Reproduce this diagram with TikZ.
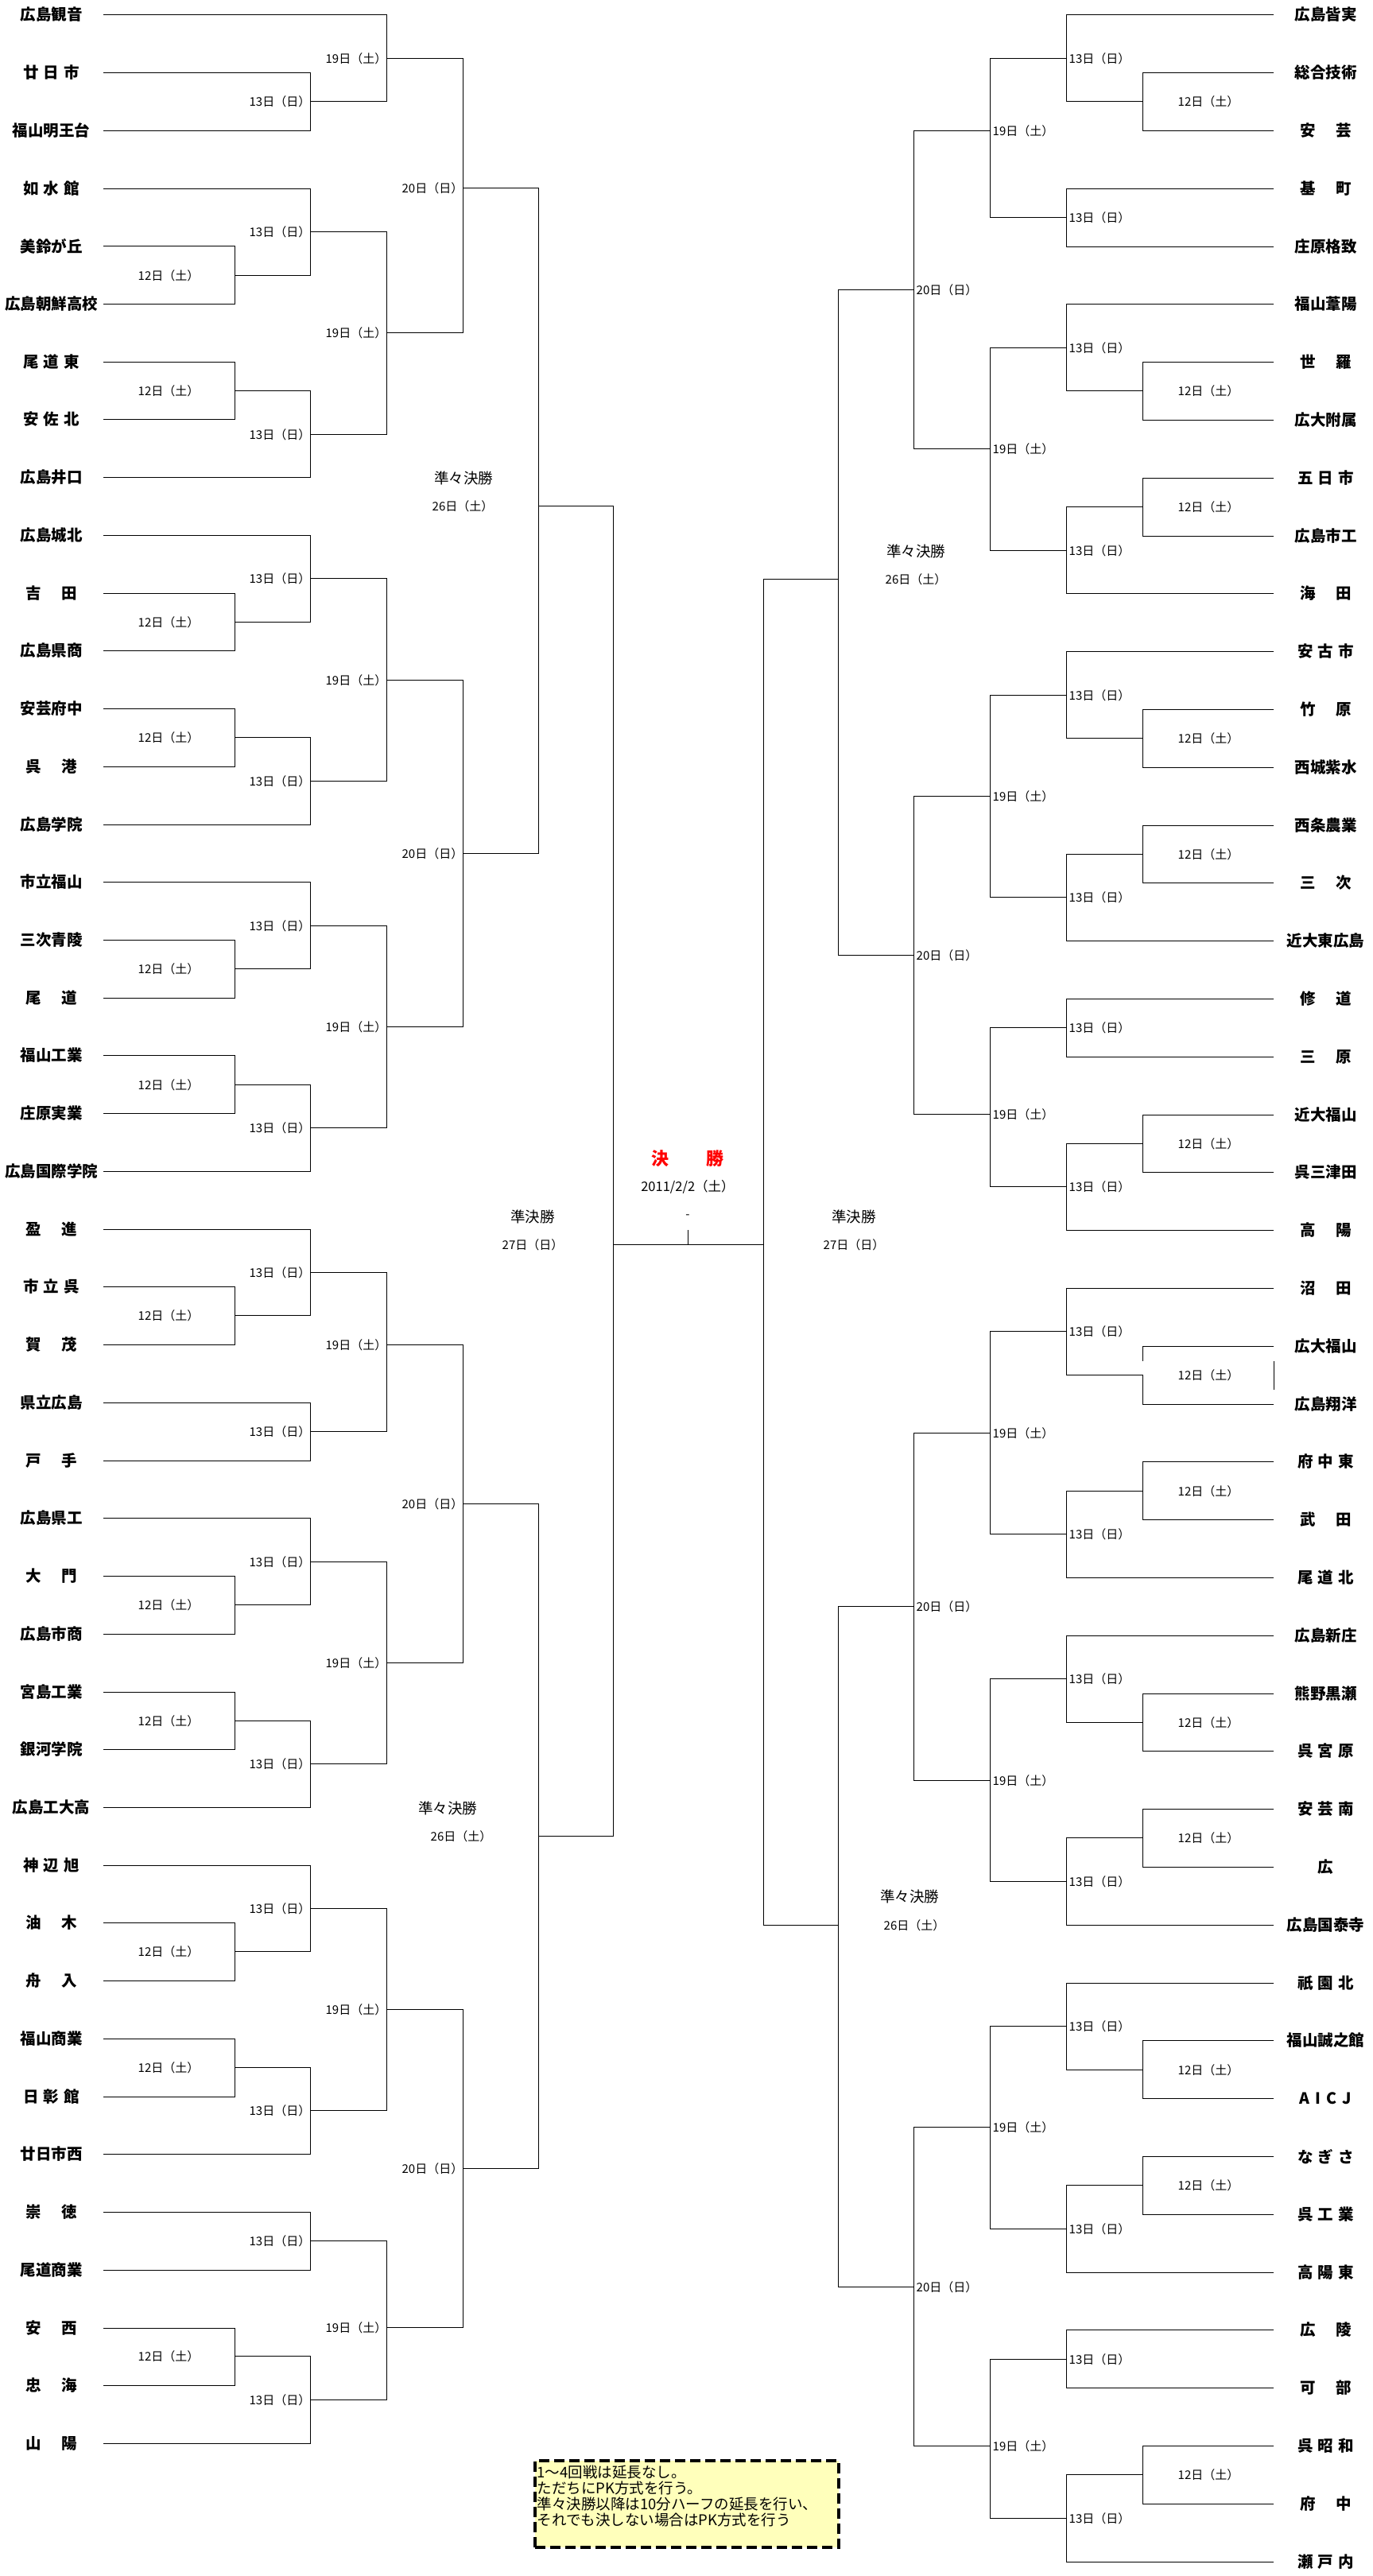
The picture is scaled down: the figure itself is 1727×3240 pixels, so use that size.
\documentclass[tikz,border=0pt]{standalone}
\usepackage{fontspec}
\setmainfont{Noto Sans CJK JP}

% spread names over the width of four characters
\newcommand{\sptwo}[2]{#1\hspace{1.33em}#2}
\newcommand{\spthree}[3]{#1\hspace{0.32em}#2\hspace{0.32em}#3}

% left half: junction name, upper input, lower input, x, quarter row, date
\newcommand{\Lmatch}[6]{%
  \coordinate (#1) at (#4,{round(18.3+18.18*#5)+0.5});
  \draw[bline] (#2) -| (#1) |- (#3);
  \node[datel, anchor=east] (#1t) at (#1) {#6};
}
\newcommand{\Lfirst}[4]{%
  \coordinate (#1) at (295.5,{round(18.3+18.18*#4)+0.5});
  \draw[bline] (#2) -| (#1) |- (#3);
  \node[datel] (#1t) at (212,{round(18.3+18.18*#4)+0.5}) {12日（土）};
}
% right half
\newcommand{\Rmatch}[6]{%
  \coordinate (#1) at (#4,{round(18.3+18.2*#5)+0.5});
  \draw[bline] (#2) -| (#1) |- (#3);
  \node[datel, anchor=west] (#1t) at ([xshift=3pt]#1) {#6};
}
\newcommand{\Rfirst}[4]{%
  \coordinate (#1) at (1437.5,{round(18.3+18.2*#4)+0.5});
  \draw[bline] (#2) -| (#1) |- (#3);
  \node[datel] (#1t) at (1520,{round(18.3+18.2*#4)+0.5}) {12日（土）};
}

\begin{document}
\begin{tikzpicture}[x=1pt, y=-1pt,
team/.style={font=\fontsize{19.5}{22}\selectfont\bfseries, minimum width=130pt, inner sep=0pt},
datel/.style={font=\fontsize{15}{17}\selectfont, inner sep=0pt},
roundl/.style={font=\fontsize{18.5}{21}\selectfont, inner sep=0pt},
fintitle/.style={font=\fontsize{22}{24}\selectfont\bfseries, text=red, inner sep=0pt},
bline/.style={line width=1.5pt},
notebox/.style={draw=black, line width=3.2pt, dash pattern=on 13pt off 6pt, fill=notefill, minimum width=382pt, minimum height=109pt, inner sep=0pt},
notetext/.style={font=\fontsize{18.5}{20}\selectfont, align=left, inner sep=0pt},
]
\definecolor{notefill}{RGB}{255,255,187}
\useasboundingbox (0,0) rectangle (1727,3240);

%Nodes left
\node[team] (L0) at (64.5,18.5) {広島観音};
\node[team] (L1) at (64.5,91.5) {\spthree{廿}{日}{市}};
\node[team] (L2) at (64.5,164.5) {福山明王台};
\node[team] (L3) at (64.5,237.5) {\spthree{如}{水}{館}};
\node[team] (L4) at (64.5,309.5) {美鈴が丘};
\node[team] (L5) at (64.5,382.5) {広島朝鮮高校};
\node[team] (L6) at (64.5,455.5) {\spthree{尾}{道}{東}};
\node[team] (L7) at (64.5,527.5) {\spthree{安}{佐}{北}};
\node[team] (L8) at (64.5,600.5) {広島井口};
\node[team] (L9) at (64.5,673.5) {広島城北};
\node[team] (L10) at (64.5,746.5) {\sptwo{吉}{田}};
\node[team] (L11) at (64.5,818.5) {広島県商};
\node[team] (L12) at (64.5,891.5) {安芸府中};
\node[team] (L13) at (64.5,964.5) {\sptwo{呉}{港}};
\node[team] (L14) at (64.5,1037.5) {広島学院};
\node[team] (L15) at (64.5,1109.5) {市立福山};
\node[team] (L16) at (64.5,1182.5) {三次青陵};
\node[team] (L17) at (64.5,1255.5) {\sptwo{尾}{道}};
\node[team] (L18) at (64.5,1327.5) {福山工業};
\node[team] (L19) at (64.5,1400.5) {庄原実業};
\node[team] (L20) at (64.5,1473.5) {広島国際学院};
\node[team] (L21) at (64.5,1546.5) {\sptwo{盈}{進}};
\node[team] (L22) at (64.5,1618.5) {\spthree{市}{立}{呉}};
\node[team] (L23) at (64.5,1691.5) {\sptwo{賀}{茂}};
\node[team] (L24) at (64.5,1764.5) {県立広島};
\node[team] (L25) at (64.5,1837.5) {\sptwo{戸}{手}};
\node[team] (L26) at (64.5,1909.5) {広島県工};
\node[team] (L27) at (64.5,1982.5) {\sptwo{大}{門}};
\node[team] (L28) at (64.5,2055.5) {広島市商};
\node[team] (L29) at (64.5,2128.5) {宮島工業};
\node[team] (L30) at (64.5,2200.5) {銀河学院};
\node[team] (L31) at (64.5,2273.5) {広島工大高};
\node[team] (L32) at (64.5,2346.5) {\spthree{神}{辺}{旭}};
\node[team] (L33) at (64.5,2418.5) {\sptwo{油}{木}};
\node[team] (L34) at (64.5,2491.5) {\sptwo{舟}{入}};
\node[team] (L35) at (64.5,2564.5) {福山商業};
\node[team] (L36) at (64.5,2637.5) {\spthree{日}{彰}{館}};
\node[team] (L37) at (64.5,2709.5) {廿日市西};
\node[team] (L38) at (64.5,2782.5) {\sptwo{崇}{徳}};
\node[team] (L39) at (64.5,2855.5) {尾道商業};
\node[team] (L40) at (64.5,2928.5) {\sptwo{安}{西}};
\node[team] (L41) at (64.5,3000.5) {\sptwo{忠}{海}};
\node[team] (L42) at (64.5,3073.5) {\sptwo{山}{陽}};

%Nodes right
\node[team] (R0) at (1667.5,18.5) {広島皆実};
\node[team] (R1) at (1667.5,91.5) {総合技術};
\node[team] (R2) at (1667.5,164.5) {\sptwo{安}{芸}};
\node[team] (R3) at (1667.5,237.5) {\sptwo{基}{町}};
\node[team] (R4) at (1667.5,310.5) {庄原格致};
\node[team] (R5) at (1667.5,382.5) {福山葦陽};
\node[team] (R6) at (1667.5,455.5) {\sptwo{世}{羅}};
\node[team] (R7) at (1667.5,528.5) {広大附属};
\node[team] (R8) at (1667.5,601.5) {\spthree{五}{日}{市}};
\node[team] (R9) at (1667.5,674.5) {広島市工};
\node[team] (R10) at (1667.5,746.5) {\sptwo{海}{田}};
\node[team] (R11) at (1667.5,819.5) {\spthree{安}{古}{市}};
\node[team] (R12) at (1667.5,892.5) {\sptwo{竹}{原}};
\node[team] (R13) at (1667.5,965.5) {西城紫水};
\node[team] (R14) at (1667.5,1038.5) {西条農業};
\node[team] (R15) at (1667.5,1110.5) {\sptwo{三}{次}};
\node[team] (R16) at (1667.5,1183.5) {近大東広島};
\node[team] (R17) at (1667.5,1256.5) {\sptwo{修}{道}};
\node[team] (R18) at (1667.5,1329.5) {\sptwo{三}{原}};
\node[team] (R19) at (1667.5,1402.5) {近大福山};
\node[team] (R20) at (1667.5,1474.5) {呉三津田};
\node[team] (R21) at (1667.5,1547.5) {\sptwo{高}{陽}};
\node[team] (R22) at (1667.5,1620.5) {\sptwo{沼}{田}};
\node[team] (R23) at (1667.5,1693.5) {広大福山};
\node[team] (R24) at (1667.5,1766.5) {広島翔洋};
\node[team] (R25) at (1667.5,1838.5) {\spthree{府}{中}{東}};
\node[team] (R26) at (1667.5,1911.5) {\sptwo{武}{田}};
\node[team] (R27) at (1667.5,1984.5) {\spthree{尾}{道}{北}};
\node[team] (R28) at (1667.5,2057.5) {広島新庄};
\node[team] (R29) at (1667.5,2130.5) {熊野黒瀬};
\node[team] (R30) at (1667.5,2202.5) {\spthree{呉}{宮}{原}};
\node[team] (R31) at (1667.5,2275.5) {\spthree{安}{芸}{南}};
\node[team] (R32) at (1667.5,2348.5) {広};
\node[team] (R33) at (1667.5,2421.5) {広島国泰寺};
\node[team] (R34) at (1667.5,2494.5) {\spthree{祇}{園}{北}};
\node[team] (R35) at (1667.5,2566.5) {福山誠之館};
\node[team] (R36) at (1667.5,2639.5) {A\hspace{7pt}I\hspace{7pt}C\hspace{7pt}J};
\node[team] (R37) at (1667.5,2712.5) {\spthree{な}{ぎ}{さ}};
\node[team] (R38) at (1667.5,2785.5) {\spthree{呉}{工}{業}};
\node[team] (R39) at (1667.5,2858.5) {\spthree{高}{陽}{東}};
\node[team] (R40) at (1667.5,2930.5) {\sptwo{広}{陵}};
\node[team] (R41) at (1667.5,3003.5) {\sptwo{可}{部}};
\node[team] (R42) at (1667.5,3076.5) {\spthree{呉}{昭}{和}};
\node[team] (R43) at (1667.5,3149.5) {\sptwo{府}{中}};
\node[team] (R44) at (1667.5,3222.5) {\spthree{瀬}{戸}{内}};

%Lines left
\Lmatch{la13a}{L1.east}{L2.east}{390.5}{6}{13日（日）}
\Lmatch{la19a}{L0.east}{la13a}{486.5}{3}{19日（土）}
\Lfirst{la12a}{L4.east}{L5.east}{18}
\Lmatch{la13b}{L3.east}{la12a}{390.5}{15}{13日（日）}
\Lfirst{la12b}{L6.east}{L7.east}{26}
\Lmatch{la13c}{la12b}{L8.east}{390.5}{29}{13日（日）}
\Lmatch{la19b}{la13b}{la13c}{486.5}{22}{19日（土）}
\Lmatch{la20}{la19a}{la19b}{582.5}{12}{20日（日）}

\Lfirst{lb12a}{L10.east}{L11.east}{42}
\Lmatch{lb13a}{L9.east}{lb12a}{390.5}{39}{13日（日）}
\Lfirst{lb12b}{L12.east}{L13.east}{50}
\Lmatch{lb13b}{lb12b}{L14.east}{390.5}{53}{13日（日）}
\Lmatch{lb19a}{lb13a}{lb13b}{486.5}{46}{19日（土）}
\Lfirst{lb12c}{L16.east}{L17.east}{66}
\Lmatch{lb13c}{L15.east}{lb12c}{390.5}{63}{13日（日）}
\Lfirst{lb12d}{L18.east}{L19.east}{74}
\Lmatch{lb13d}{lb12d}{L20.east}{390.5}{77}{13日（日）}
\Lmatch{lb19b}{lb13c}{lb13d}{486.5}{70}{19日（土）}
\Lmatch{lb20}{lb19a}{lb19b}{582.5}{58}{20日（日）}

\Lfirst{lc12a}{L22.east}{L23.east}{90}
\Lmatch{lc13a}{L21.east}{lc12a}{390.5}{87}{13日（日）}
\Lmatch{lc13b}{L24.east}{L25.east}{390.5}{98}{13日（日）}
\Lmatch{lc19a}{lc13a}{lc13b}{486.5}{92}{19日（土）}
\Lfirst{lc12b}{L27.east}{L28.east}{110}
\Lmatch{lc13c}{L26.east}{lc12b}{390.5}{107}{13日（日）}
\Lfirst{lc12c}{L29.east}{L30.east}{118}
\Lmatch{lc13d}{lc12c}{L31.east}{390.5}{121}{13日（日）}
\Lmatch{lc19b}{lc13c}{lc13d}{486.5}{114}{19日（土）}
\Lmatch{lc20}{lc19a}{lc19b}{582.5}{103}{20日（日）}

\Lfirst{ld12a}{L33.east}{L34.east}{134}
\Lmatch{ld13a}{L32.east}{ld12a}{390.5}{131}{13日（日）}
\Lfirst{ld12b}{L35.east}{L36.east}{142}
\Lmatch{ld13b}{ld12b}{L37.east}{390.5}{145}{13日（日）}
\Lmatch{ld19a}{ld13a}{ld13b}{486.5}{138}{19日（土）}
\Lmatch{ld13c}{L38.east}{L39.east}{390.5}{154}{13日（日）}
\Lfirst{ld12c}{L40.east}{L41.east}{162}
\Lmatch{ld13d}{ld12c}{L42.east}{390.5}{165}{13日（日）}
\Lmatch{ld19b}{ld13c}{ld13d}{486.5}{160}{19日（土）}
\Lmatch{ld20}{ld19a}{ld19b}{582.5}{149}{20日（日）}

%Lines right
\Rfirst{re12a}{R1.west}{R2.west}{6}
\Rmatch{re13a}{R0.west}{re12a}{1341.5}{3}{13日（日）}
\Rmatch{re13b}{R3.west}{R4.west}{1341.5}{14}{13日（日）}
\Rmatch{re19a}{re13a}{re13b}{1245.5}{8}{19日（土）}
\Rfirst{re12b}{R6.west}{R7.west}{26}
\Rmatch{re13c}{R5.west}{re12b}{1341.5}{23}{13日（日）}
\Rfirst{re12c}{R8.west}{R9.west}{34}
\Rmatch{re13d}{re12c}{R10.west}{1341.5}{37}{13日（日）}
\Rmatch{re19b}{re13c}{re13d}{1245.5}{30}{19日（土）}
\Rmatch{re20}{re19a}{re19b}{1149.5}{19}{20日（日）}

\Rfirst{rf12a}{R12.west}{R13.west}{50}
\Rmatch{rf13a}{R11.west}{rf12a}{1341.5}{47}{13日（日）}
\Rfirst{rf12b}{R14.west}{R15.west}{58}
\Rmatch{rf13b}{rf12b}{R16.west}{1341.5}{61}{13日（日）}
\Rmatch{rf19a}{rf13a}{rf13b}{1245.5}{54}{19日（土）}
\Rmatch{rf13c}{R17.west}{R18.west}{1341.5}{70}{13日（日）}
\Rfirst{rf12c}{R19.west}{R20.west}{78}
\Rmatch{rf13d}{rf12c}{R21.west}{1341.5}{81}{13日（日）}
\Rmatch{rf19b}{rf13c}{rf13d}{1245.5}{76}{19日（土）}
\Rmatch{rf20}{rf19a}{rf19b}{1149.5}{65}{20日（日）}

% this 12th-day bracket is broken in the original sheet
\coordinate (rg12a) at (1437.5,1729.5);
\coordinate (rg12gap) at (1437.5,1711.5);
\coordinate (rgstray) at (1602.5,1711.5);
\draw[bline] (R23.west) -| (rg12gap);
\draw[bline] (R24.west) -| (rg12a);
\draw[bline] (rgstray) -- (1602.5,1747.5);
\node[datel] (rg12at) at (1520,1729.5) {12日（土）};
\Rmatch{rg13a}{R22.west}{rg12a}{1341.5}{91}{13日（日）}
\Rfirst{rg12b}{R25.west}{R26.west}{102}
\Rmatch{rg13b}{rg12b}{R27.west}{1341.5}{105}{13日（日）}
\Rmatch{rg19a}{rg13a}{rg13b}{1245.5}{98}{19日（土）}
\Rfirst{rg12c}{R29.west}{R30.west}{118}
\Rmatch{rg13c}{R28.west}{rg12c}{1341.5}{115}{13日（日）}
\Rfirst{rg12d}{R31.west}{R32.west}{126}
\Rmatch{rg13d}{rg12d}{R33.west}{1341.5}{129}{13日（日）}
\Rmatch{rg19b}{rg13c}{rg13d}{1245.5}{122}{19日（土）}
\Rmatch{rg20}{rg19a}{rg19b}{1149.5}{110}{20日（日）}

\Rfirst{rh12a}{R35.west}{R36.west}{142}
\Rmatch{rh13a}{R34.west}{rh12a}{1341.5}{139}{13日（日）}
\Rfirst{rh12b}{R37.west}{R38.west}{150}
\Rmatch{rh13b}{rh12b}{R39.west}{1341.5}{153}{13日（日）}
\Rmatch{rh19a}{rh13a}{rh13b}{1245.5}{146}{19日（土）}
\Rmatch{rh13c}{R40.west}{R41.west}{1341.5}{162}{13日（日）}
\Rfirst{rh12c}{R42.west}{R43.west}{170}
\Rmatch{rh13d}{rh12c}{R44.west}{1341.5}{173}{13日（日）}
\Rmatch{rh19b}{rh13c}{rh13d}{1245.5}{168}{19日（土）}
\Rmatch{rh20}{rh19a}{rh19b}{1149.5}{157}{20日（日）}

%Quarter finals
\coordinate (lq1) at (677.5,636.5);
\coordinate (lq2) at (677.5,2309.5);
\coordinate (rq1) at (1054.5,728.5);
\coordinate (rq2) at (1054.5,2421.5);
\draw[bline] (la20) -| (lq1) |- (lb20);
\draw[bline] (lc20) -| (lq2) |- (ld20);
\draw[bline] (re20) -| (rq1) |- (rf20);
\draw[bline] (rg20) -| (rq2) |- (rh20);
\node[roundl] (lq1a) at (583,601) {準々決勝};
\node[datel] (lq1b) at (582,636.5) {26日（土）};
\node[roundl] (lq2a) at (563,2274) {準々決勝};
\node[datel] (lq2b) at (580,2309.5) {26日（土）};
\node[roundl] (rq1a) at (1152,693) {準々決勝};
\node[datel] (rq1b) at (1152,728.5) {26日（土）};
\node[roundl] (rq2a) at (1144,2385) {準々決勝};
\node[datel] (rq2b) at (1150,2421.5) {26日（土）};

%Semi finals and final
\coordinate (finL) at (771.5,1565.5);
\coordinate (finR) at (960.5,1565.5);
\coordinate (finT) at (865.5,1547);
\draw[bline] (lq1) -| (finL) |- (lq2);
\draw[bline] (rq1) -| (finR) |- (rq2);
\draw[bline] (finL) -- (finR);
\draw[bline] (finT) -- (finT |- finL);
\node[roundl] (lsfa) at (670,1530) {準決勝};
\node[datel] (lsfb) at (670,1566) {27日（日）};
\node[roundl] (rsfa) at (1074,1530) {準決勝};
\node[datel] (rsfb) at (1074,1566) {27日（日）};
\node[fintitle] (fin) at (865,1457) {決\hspace{47pt}勝};
\node[datel, font=\fontsize{16.5}{18}\selectfont] (findate) at (865,1493) {2011/2/2（土）};
\node[datel] (findash) at (865,1530) {-};

%Note
\node[notebox] (notebg) at (864,3149.5) {};
\node[notetext, anchor=north west] (note) at ([xshift=4pt,yshift=-7pt]notebg.north west)
  {1～4回戦は延長なし。\\ただちにPK方式を行う。\\準々決勝以降は10分ハーフの延長を行い、\\それでも決しない場合はPK方式を行う};

\end{tikzpicture}
\end{document}
